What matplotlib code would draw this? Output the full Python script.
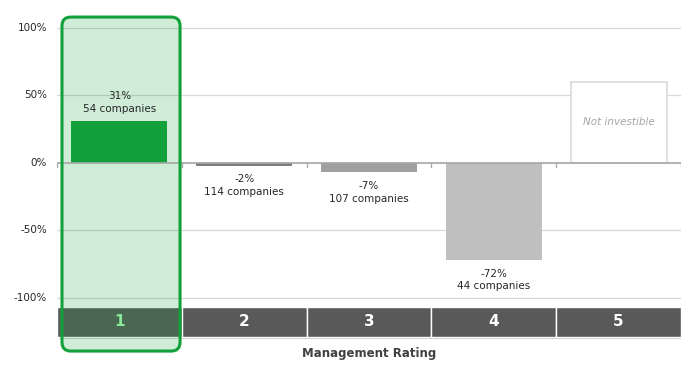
import matplotlib
matplotlib.use("Agg")
import matplotlib.pyplot as plt
from matplotlib.patches import Rectangle, FancyBboxPatch

# Data
ratings = ["1", "2", "3", "4", "5"]
returns = [0.31, -0.02, -0.07, -0.72]
companies = [54, 114, 107, 44]
bar_colors = ["#11a03a", "#7f7f7f", "#a0a0a0", "#bfbfbf"]
not_investible_height = 0.60
yticks = [1.0, 0.5, 0.0, -0.5, -1.0]
ytick_labels = ["100%", "50%", "0%", "-50%", "-100%"]

plt.rcParams['font.family'] = ['DejaVu Sans']

fig = plt.figure(figsize=(6.99, 3.78), dpi=100)
# axes spans full figure height; 0 at pixel 163, 135 px per 100%
ax = fig.add_axes([57 / 699, 0, 624 / 699, 1])
ax.set_xlim(0.5, 5.5)
ax.set_ylim(-(378 - 163) / 135, 163 / 135)
ax.axis("off")

# gridlines
for y in [1.0, 0.5, -0.5, -1.0]:
    ax.axhline(y, color="#d9d9d9", lw=0.9, zorder=0)
# zero line with ticks at category boundaries
ax.axhline(0, color="#a6a6a6", lw=1.2, zorder=4)
for i in range(len(ratings) + 1):
    ax.plot([0.5 + i, 0.5 + i], [0, -0.03], color="#a6a6a6", lw=0.9, zorder=4)

# y tick labels
for y, lab in zip(yticks, ytick_labels):
    ax.text(0.5 - 10 / 124.8, y, lab, ha="right", va="center", fontsize=7.5,
            color="#262626", clip_on=False)

# bars
bw = 0.77
xs = list(range(1, len(returns) + 1))
ax.bar(xs, returns, width=bw, color=bar_colors, zorder=3)

# value labels
for x, v, n in zip(xs, returns, companies):
    txt = f"{round(v * 100):.0f}%\n{n} companies"
    if v >= 0:
        ax.annotate(txt, (x, v), xytext=(0, 5), textcoords="offset points",
                    ha="center", va="bottom", fontsize=7.5, color="#262626",
                    linespacing=1.35, zorder=6)
    else:
        ax.annotate(txt, (x, v), xytext=(0, -6), textcoords="offset points",
                    ha="center", va="top", fontsize=7.5, color="#262626",
                    linespacing=1.35, zorder=6)

# not investible box
ax.add_patch(Rectangle((5 - bw / 2, 0), bw, not_investible_height,
                       facecolor="white", edgecolor="#d9d9d9", lw=1.2, zorder=3))
ax.text(5, not_investible_height / 2, "Not investible", ha="center", va="center",
        fontsize=7.5, style="italic", color="#a6a6a6", zorder=6)

# category label band
band_top = -(307 - 163) / 135
band_bot = -(337 - 163) / 135
ax.add_patch(Rectangle((0.52, band_bot - 0.018), 5.0, band_top - band_bot,
                       facecolor="#c8c8c8", edgecolor="none", zorder=1))
for i, r in enumerate(ratings):
    ax.add_patch(Rectangle((0.5 + i, band_bot), 1, band_top - band_bot,
                           facecolor="#595959", edgecolor="white", lw=1, zorder=1))
    ax.text(1 + i, (band_top + band_bot) / 2, r, ha="center", va="center",
            fontsize=11, fontweight="bold",
            color="#8be89a" if i == 0 else "white", zorder=7)

ax.text(3, -(354 - 163) / 135, "Management Rating", ha="center", va="center",
        fontsize=8.5, fontweight="bold", color="#404040")

# highlight of rating 1
ax.add_patch(FancyBboxPatch((0.54, -1.393), 0.946, 1.081 + 1.393,
                            boxstyle="round,pad=0,rounding_size=0.07",
                            mutation_aspect=0.924,
                            facecolor="#11a03a", alpha=0.2, edgecolor="none",
                            zorder=2))
ax.add_patch(FancyBboxPatch((0.54, -1.393), 0.946, 1.081 + 1.393,
                            boxstyle="round,pad=0,rounding_size=0.07",
                            mutation_aspect=0.924,
                            facecolor="none", edgecolor="#11a03a", lw=2.2,
                            zorder=8))

fig.savefig("out.png", dpi=100)
